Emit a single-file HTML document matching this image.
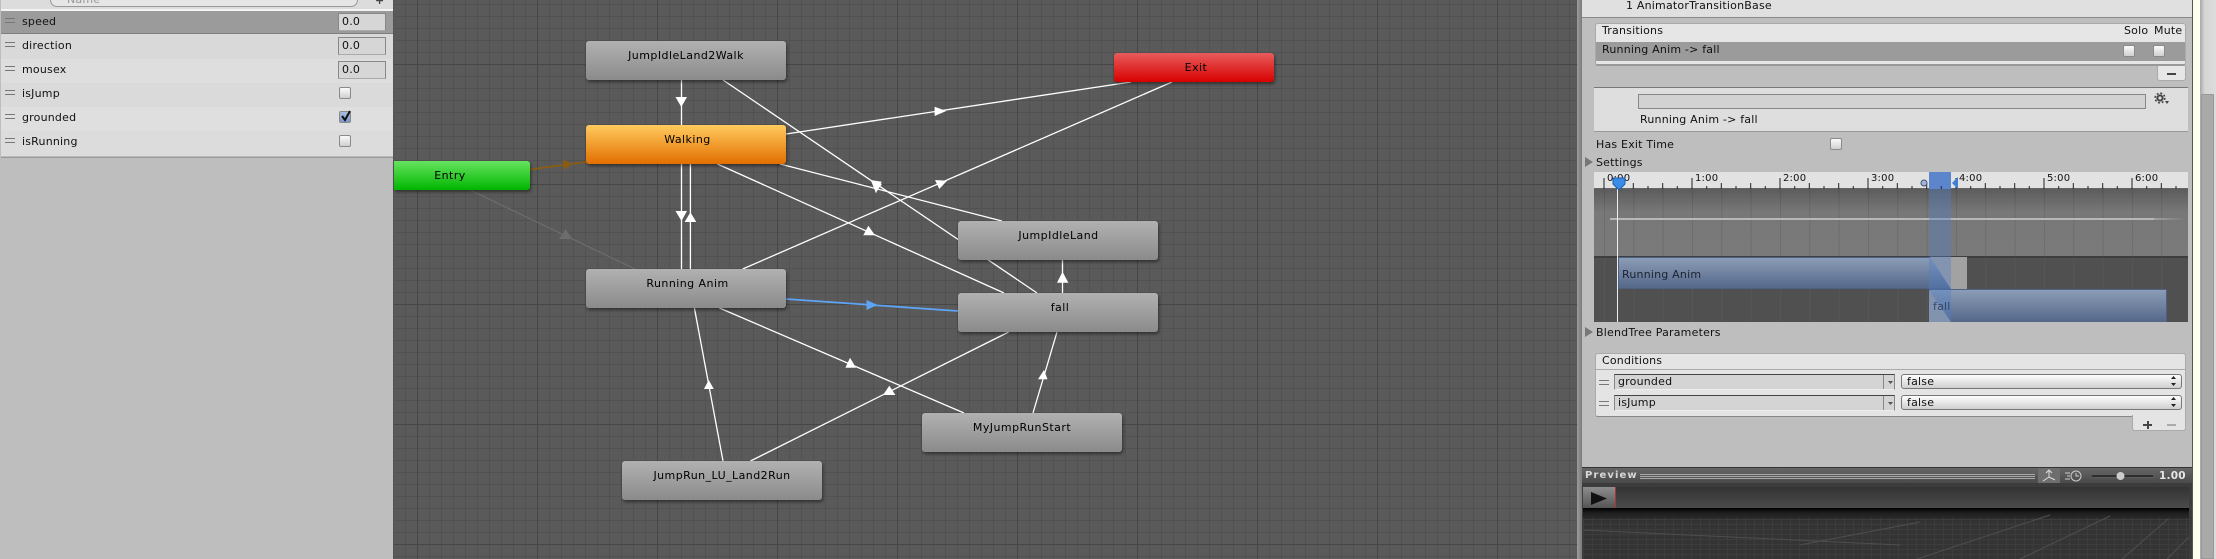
<!DOCTYPE html>
<html><head><meta charset="utf-8">
<style>
html,body{margin:0;padding:0;background:#bebebe}
#p{position:relative;width:2216px;height:559px;overflow:hidden;font:11px/14px "DejaVu Sans",sans-serif;color:#111;letter-spacing:.2px}
#p div{position:absolute;box-sizing:border-box}
.t{white-space:nowrap;height:14px}
.n{background:linear-gradient(#b1b1b1,#8b8b8b);border-radius:3px;box-shadow:1px 2px 3px rgba(0,0,0,.45);color:#000;text-align:center;line-height:14px;letter-spacing:.45px}
.n span{position:absolute;left:0;right:0;top:8px}
.r{left:1px;width:392px;height:24px}
.h{width:10px;height:5px;border-top:1px solid #777;border-bottom:1px solid #777}
.f{left:338px;width:48px;height:18px;background:#d6d6d6;border:1px solid #888;border-bottom-color:#aaa;padding-left:3px;line-height:15px}
.c{width:12px;height:12px;background:linear-gradient(#fafafa,#d0d0d0);border:1px solid #8a8a8a;border-radius:2px}
.dd{background:linear-gradient(#fdfdfd,#cfcfcf);border:1px solid #777;border-radius:3px;padding-left:5px;line-height:13px}
.cf{background:#d4d4d4;border:1px solid #888;border-top-color:#444;border-bottom-color:#eee;padding-left:3px;line-height:14px}
</style></head><body>
<div id="p">

<!-- left parameters panel -->
<div style="left:0;top:0;width:394px;height:559px;background:#bebebe;border-right:1px solid #555"></div>
<div style="left:1px;top:0;width:392px;height:9px;background:#dcdcdc"></div>
<div style="left:50px;top:-8px;width:308px;height:15px;background:#e6e6e6;border:1px solid #999;border-radius:7px"></div>
<div class="t" style="left:67px;top:-7px;color:#999">Name</div>
<div class="t" style="left:375px;top:-6px;font-weight:bold;color:#444">+</div>
<div style="left:1px;top:9px;width:392px;height:2px;background:#f4f4f4"></div>
<div class="r" style="top:11px;height:23px;background:#9b9b9b;border-bottom:1px solid #7d7d7d"></div>
<div class="r" style="top:34px;height:25px;background:#d9d9d9"></div>
<div class="r" style="top:59px;background:#dedede"></div>
<div class="r" style="top:83px;background:#dadada"></div>
<div class="r" style="top:107px;background:#dfdfdf"></div>
<div class="r" style="top:131px;background:#dcdcdc"></div>
<div style="left:1px;top:155px;width:392px;height:3px;background:linear-gradient(#eee,#888)"></div>
<div class="h" style="left:5px;top:18px"></div><div class="t" style="left:22px;top:15px">speed</div>
<div class="h" style="left:5px;top:42px"></div><div class="t" style="left:22px;top:39px">direction</div>
<div class="h" style="left:5px;top:66px"></div><div class="t" style="left:22px;top:63px">mousex</div>
<div class="h" style="left:5px;top:90px"></div><div class="t" style="left:22px;top:87px">isJump</div>
<div class="h" style="left:5px;top:114px"></div><div class="t" style="left:22px;top:111px">grounded</div>
<div class="h" style="left:5px;top:138px"></div><div class="t" style="left:22px;top:135px">isRunning</div>
<div class="f" style="top:13px">0.0</div>
<div class="f" style="top:37px">0.0</div>
<div class="f" style="top:61px">0.0</div>
<div class="c" style="left:339px;top:87px"></div>
<div class="c" style="left:339px;top:111px;background:linear-gradient(#a9bde0,#7d97c8)"></div>
<div class="c" style="left:339px;top:135px"></div>
<svg style="position:absolute;left:339px;top:109px" width="14" height="14"><path d="M3 7 L6 11 L11 2" fill="none" stroke="#111" stroke-width="2"/></svg>

<!-- graph canvas -->
<div style="left:394px;top:0;width:1183px;height:559px;background-color:#5a5a5a;background-image:linear-gradient(90deg,#464646 1px,transparent 1px),linear-gradient(#464646 1px,transparent 1px),linear-gradient(90deg,#525252 1px,transparent 1px),linear-gradient(#525252 1px,transparent 1px);background-size:120px 120px,120px 120px,12px 12px,12px 12px;background-position:23px 64px,23px 64px,11px 4px,11px 4px"></div>

<svg style="position:absolute;left:0;top:0" width="2216" height="559">
<g stroke="#ffffff" stroke-width="1.3" fill="none">
<line x1="681.5" y1="80" x2="681.5" y2="125"/>
<line x1="681.5" y1="164" x2="681.5" y2="269"/>
<line x1="690.4" y1="164" x2="690.4" y2="269"/>
<line x1="723" y1="80" x2="1037" y2="293"/>
<line x1="786" y1="134" x2="1131" y2="82"/>
<line x1="742.7" y1="269" x2="1172" y2="82"/>
<line x1="780" y1="164" x2="1002" y2="221"/>
<line x1="717.4" y1="164" x2="1004" y2="293"/>
<line x1="1062.5" y1="260" x2="1062.5" y2="293"/>
<line x1="694.4" y1="308" x2="723" y2="461"/>
<line x1="719.4" y1="308" x2="964" y2="413"/>
<line x1="750.5" y1="461" x2="1008.7" y2="332"/>
<line x1="1033" y1="413" x2="1057" y2="332"/>
</g>
<line x1="530" y1="169.5" x2="586" y2="162" stroke="#8a5c12" stroke-width="1.7"/>
<line x1="470" y1="190" x2="635" y2="269" stroke="#6c6c6c" stroke-width="1.2"/>
<line x1="786" y1="299" x2="958" y2="311" stroke="#5ea4f5" stroke-width="1.8"/>
<g fill="#ffffff">
<polygon points="675.5,97 687,97 681.3,107"/>
<polygon points="675.5,211 687,211 681.5,221"/>
<polygon points="684.6,222 696.3,222 690.4,212.3"/>
<polygon points="870.7,180 881.7,181.7 876,193.3"/>
<polygon points="872,182 882,184 876,192"/>
<polygon points="935,180 947,180.7 939.3,189"/>
<polygon points="934.6,106.7 934.6,116 946.3,111"/>
<polygon points="868.3,225.7 863.3,235.3 875,235.3"/>
<polygon points="1057,282.7 1068.4,282.7 1062.5,271.7"/>
<polygon points="704,389 713.8,389 708.7,380"/>
<polygon points="845.4,367.7 856,367.7 850,357.7"/>
<polygon points="883,395 895.4,395 889.3,385.7"/>
<polygon points="1038,379.3 1047.5,379.3 1044,370"/>
</g>
<polygon points="563.3,159.3 564,170 571.7,164" fill="#8a5c12"/>
<polygon points="559,239 572.5,239 565.5,229" fill="#6c6c6c"/>
<polygon points="866.5,300 866.5,310 877.7,305" fill="#5ea4f5"/>
</svg>

<!-- nodes -->
<div class="n" style="left:394px;top:161px;width:136px;height:29px;background:linear-gradient(#66e35f,#00b600);border-radius:0 3px 3px 0"><span style="left:0;right:24px">Entry</span></div>
<div class="n" style="left:1114px;top:53px;width:160px;height:29px;background:linear-gradient(#e85c5c,#d80000)"><span style="left:4px">Exit</span></div>
<div class="n" style="left:586px;top:41px;width:200px;height:39px"><span>JumpIdleLand2Walk</span></div>
<div class="n" style="left:586px;top:125px;width:200px;height:39px;background:linear-gradient(#ffcb5e,#e36e00)"><span style="left:3px">Walking</span></div>
<div class="n" style="left:586px;top:269px;width:200px;height:39px"><span style="left:3px">Running Anim</span></div>
<div class="n" style="left:958px;top:221px;width:200px;height:39px"><span style="left:1px">JumpIdleLand</span></div>
<div class="n" style="left:958px;top:293px;width:200px;height:39px"><span style="left:4px">fall</span></div>
<div class="n" style="left:922px;top:413px;width:200px;height:39px"><span>MyJumpRunStart</span></div>
<div class="n" style="left:622px;top:461px;width:200px;height:39px"><span>JumpRun_LU_Land2Run</span></div>

<!-- right inspector -->
<div style="left:1577px;top:0;width:5px;height:559px;background:linear-gradient(90deg,#9c9c9c,#7a7a7a)"></div>
<div style="left:1582px;top:0;width:610px;height:559px;background:#bebebe"></div>
<div style="left:2192px;top:0;width:1px;height:559px;background:#555"></div>
<div style="left:2193px;top:0;width:7px;height:559px;background:#fffff0"></div>
<div style="left:2200px;top:0;width:16px;height:559px;background:linear-gradient(90deg,#a8a8a8,#d6d6d6 30%,#dcdcdc)"></div>
<div style="left:2201px;top:94px;width:13px;height:465px;background:#a9a9a9;border:1px solid #999"></div>

<div style="left:1582px;top:0;width:610px;height:18px;background:#e0e0e0;border-bottom:1px solid #8a8a8a"></div>
<div class="t" style="left:1626px;top:-1px">1 AnimatorTransitionBase</div>

<!-- transitions -->
<div style="left:1595px;top:23px;width:591px;height:43px;background:#e6e6e6;border:1px solid #aaa;border-radius:3px;border-bottom:2px solid #999"></div>
<div class="t" style="left:1602px;top:24px">Transitions</div>
<div class="t" style="left:2124px;top:24px">Solo</div>
<div class="t" style="left:2154px;top:24px">Mute</div>
<div style="left:1596px;top:42px;width:589px;height:19px;background:#9b9b9b"></div>
<div class="t" style="left:1602px;top:43px">Running Anim -&gt; fall</div>
<div class="c" style="left:2123px;top:45px"></div>
<div class="c" style="left:2153px;top:45px"></div>
<div style="left:2157px;top:66px;width:29px;height:15px;background:#e6e6e6;border:1px solid #aaa;border-top:0;border-radius:0 0 3px 3px"></div>
<div style="left:2167px;top:73px;width:9px;height:2px;background:#444"></div>

<div style="left:1594px;top:87px;width:594px;height:45px;background:#dedede;border-top:1px solid #777;border-bottom:1px solid #999"></div>
<div style="left:1638px;top:94px;width:508px;height:15px;background:#d2d2d2;border:1px solid #888"></div>
<svg style="position:absolute;left:2154px;top:92px" width="16" height="14">
<circle cx="6" cy="6" r="2.6" fill="none" stroke="#444" stroke-width="2"/>
<circle cx="6" cy="6" r="4.8" fill="none" stroke="#444" stroke-width="1.6" stroke-dasharray="1.9 1.9"/>
<polygon points="11,9 15,9 13,12" fill="#444"/>
</svg>
<div class="t" style="left:1640px;top:113px">Running Anim -&gt; fall</div>
<div class="t" style="left:1596px;top:138px">Has Exit Time</div>
<div class="c" style="left:1830px;top:138px"></div>
<svg style="position:absolute;left:1585px;top:155px" width="10" height="190"><polygon points="0,2 8,7 0,12" fill="#777"/><polygon points="0,172 8,177 0,182" fill="#777"/></svg>
<div class="t" style="left:1596px;top:156px">Settings</div>
<div class="t" style="left:1596px;top:326px">BlendTree Parameters</div>

<!-- timeline -->
<div style="left:1594px;top:172px;width:594px;height:17px;background:#e2e2e2;border-bottom:1px solid #666"></div>
<div style="left:1594px;top:189px;width:594px;height:67px;background-color:#777;background-image:linear-gradient(90deg,rgba(0,0,0,.1) 1px,transparent 1px),linear-gradient(#5c5c5c,#787878 35%,#7a7a7a);background-size:29.33px 100%,100% 100%;background-position:10px 0,0 0"></div>
<div style="left:1594px;top:256px;width:594px;height:66px;background-color:#505050;border-top:2px solid #3e3e3e;background-image:linear-gradient(90deg,rgba(255,255,255,.04) 1px,transparent 1px);background-size:29.33px 100%;background-position:10px 0"></div>
<div style="left:1610px;top:218px;width:544px;height:2px;background:#b8b8b8"></div>
<div style="left:2154px;top:218px;width:33px;height:2px;background:linear-gradient(90deg,#a0a0a0,#777)"></div>
<div style="left:1618px;top:257px;width:349px;height:32px;background:linear-gradient(#8b9cb6,#55688a);border:1px solid #4d6184"></div>
<div style="left:1929px;top:289px;width:238px;height:33px;background:linear-gradient(#8b9cb6,#55688a);border:1px solid #4d6184;border-bottom:0"></div>
<svg style="position:absolute;left:1925px;top:255px" width="50" height="70">
<polygon points="5,2 42,2 42,34 26,34" fill="#a2a2a2"/>
<polygon points="4,35 4,67 26,67" fill="#a0a0a0"/>
</svg>
<div class="t" style="left:1622px;top:268px;color:#1c2430">Running Anim</div>
<div class="t" style="left:1933px;top:300px;color:#1c2430">fall</div>
<div style="left:1929px;top:189px;width:22px;height:133px;background:rgba(80,125,200,.38)"></div>
<div style="left:1929px;top:172px;width:22px;height:17px;background:#5b86cb"></div>
<svg style="position:absolute;left:1594px;top:172px" width="594" height="18" viewBox="1594 172 594 18">
<path d="M1604 178V189M1618.7 186V189M1633.3 183V189M1648 186V189M1662.7 183V189M1677.3 186V189M1692 178V189M1706.7 186V189M1721.3 183V189M1736 186V189M1750.7 183V189M1765.3 186V189M1780 178V189M1794.7 186V189M1809.3 183V189M1824 186V189M1838.7 183V189M1853.3 186V189M1868 178V189M1882.7 186V189M1897.3 183V189M1912 186V189M1926.7 183V189M1941.3 186V189M1956 178V189M1970.7 186V189M1985.3 183V189M2000 186V189M2014.7 183V189M2029.3 186V189M2044 178V189M2058.7 186V189M2073.3 183V189M2088 186V189M2102.7 183V189M2117.3 186V189M2132 178V189M2146.7 186V189M2161.3 183V189M2176 186V189" stroke="#222" stroke-width="1" fill="none"/>
<circle cx="1924" cy="183" r="3" fill="#9fb7de" stroke="#456" stroke-width="1"/>
<polygon points="1958,177 1958,189 1952,183" fill="#3f7fd4"/>
</svg>
<div class="t" style="left:1607px;top:172px;font-size:10px">0:00</div>
<div class="t" style="left:1695px;top:172px;font-size:10px">1:00</div>
<div class="t" style="left:1783px;top:172px;font-size:10px">2:00</div>
<div class="t" style="left:1871px;top:172px;font-size:10px">3:00</div>
<div class="t" style="left:1959px;top:172px;font-size:10px">4:00</div>
<div class="t" style="left:2047px;top:172px;font-size:10px">5:00</div>
<div class="t" style="left:2135px;top:172px;font-size:10px">6:00</div>
<div style="left:1617px;top:189px;width:1px;height:133px;background:#eee"></div>
<svg style="position:absolute;left:1612px;top:177px" width="14" height="14"><path d="M1 1H13V7L7 13L1 7Z" fill="#3b8be8" stroke="#1d5ea8"/></svg>

<!-- conditions -->
<div style="left:1595px;top:353px;width:591px;height:64px;background:#e4e4e4;border:1px solid #aaa;border-bottom-color:#888;border-radius:3px"></div>
<div style="left:1596px;top:369px;width:589px;height:1px;background:#aaa"></div>
<div class="t" style="left:1602px;top:354px">Conditions</div>
<div class="h" style="left:1599px;top:380px"></div>
<div class="h" style="left:1599px;top:401px"></div>
<div class="cf" style="left:1614px;top:374px;width:281px;height:16px">grounded</div>
<div class="cf" style="left:1614px;top:395px;width:281px;height:16px">isJump</div>
<div style="left:1883px;top:375px;width:1px;height:14px;background:#888"></div>
<div style="left:1883px;top:396px;width:1px;height:14px;background:#888"></div>
<div class="dd" style="left:1901px;top:374px;width:281px;height:15px">false</div>
<div class="dd" style="left:1901px;top:395px;width:281px;height:15px">false</div>
<svg style="position:absolute;left:1886px;top:374px" width="300" height="40">
<path d="M2 7h5l-2.5 3zM2 28h5l-2.5 3z" fill="#555"/>
<path d="M285 5l2.5-3 2.5 3zM285 9l2.5 3 2.5-3zM285 26l2.5-3 2.5 3zM285 30l2.5 3 2.5-3z" fill="#222"/>
</svg>
<div style="left:2132px;top:415px;width:54px;height:16px;background:#e4e4e4;border:1px solid #aaa;border-top:0;border-radius:0 0 3px 3px"></div>
<div style="left:2143px;top:424px;width:9px;height:2px;background:#444"></div>
<div style="left:2147px;top:421px;width:2px;height:8px;background:#444"></div>
<div style="left:2167px;top:424px;width:9px;height:2px;background:#aaa"></div>

<!-- preview -->
<div style="left:1582px;top:467px;width:610px;height:16px;background:linear-gradient(#666,#4a4a4a);border-top:1px solid #333"></div>
<div class="t" style="left:1585px;top:469px;color:#d8d8d8;font-weight:bold;font-size:10px;letter-spacing:1.1px">Preview</div>
<div style="left:1640px;top:474px;width:395px;height:1px;background:#a8a8a8"></div>
<div style="left:1640px;top:476px;width:395px;height:1px;background:#a8a8a8"></div>
<div style="left:1640px;top:478px;width:395px;height:1px;background:#a8a8a8"></div>
<div style="left:2038px;top:468px;width:22px;height:15px;background:#6e6e6e"></div>
<svg style="position:absolute;left:2038px;top:468px" width="120" height="16">
<path d="M11 3V9L5 13M11 9L17 12M8 5L11 2L14 5" stroke="#ddd" fill="none"/>
<circle cx="38" cy="8" r="5" stroke="#ccc" fill="none"/><path d="M38 5V8H41M27 5h5M29 8h3M27 11h5" stroke="#ccc" fill="none"/>
<rect x="53" y="6.5" width="63" height="3" rx="1.5" fill="#2e2e2e" stroke="#777" stroke-width=".5"/>
<circle cx="82.5" cy="8" r="4" fill="#ccc"/>
</svg>
<div class="t" style="left:2159px;top:469px;color:#e6e6e6;font-weight:bold;font-size:10.5px">1.00</div>
<div style="left:1582px;top:483px;width:610px;height:76px;background:#3c3c3c"></div>
<div style="left:1583px;top:487px;width:606px;height:21px;background:linear-gradient(#333,#4b4b4b)"></div>
<div style="left:1583px;top:487px;width:33px;height:21px;background:linear-gradient(#8d8d8d,#555);border-right:1px solid #a33"></div>
<svg style="position:absolute;left:1591px;top:491px" width="18" height="16"><polygon points="0,1 16,7.5 0,14" fill="#111"/></svg>
<div style="left:1583px;top:508px;width:606px;height:51px;background:linear-gradient(#000,#1e1e1e 5px,#333 14px,#353535);overflow:hidden"></div>
<svg style="position:absolute;left:1583px;top:508px" width="606" height="51" viewBox="1583 508 606 51">
<defs><pattern id="g" width="9" height="5" patternUnits="userSpaceOnUse"><path d="M0 4.5H9M8.5 0V5" stroke="#3c3c3c" stroke-width="1" fill="none"/></pattern></defs>
<rect x="1583" y="518" width="606" height="41" fill="url(#g)"/>
<g stroke="#4e4e4e" stroke-width="1" fill="none">
<line x1="2050" y1="515" x2="1917" y2="559"/>
<line x1="2110" y1="516" x2="2020" y2="559"/>
<line x1="2168" y1="519" x2="2122" y2="559"/>
<line x1="2189" y1="537" x2="2167" y2="559"/>
<line x1="1920" y1="522" x2="1800" y2="545"/>
<line x1="1583" y1="530" x2="1900" y2="545"/>
</g>
</svg>
</div>
</body></html>
